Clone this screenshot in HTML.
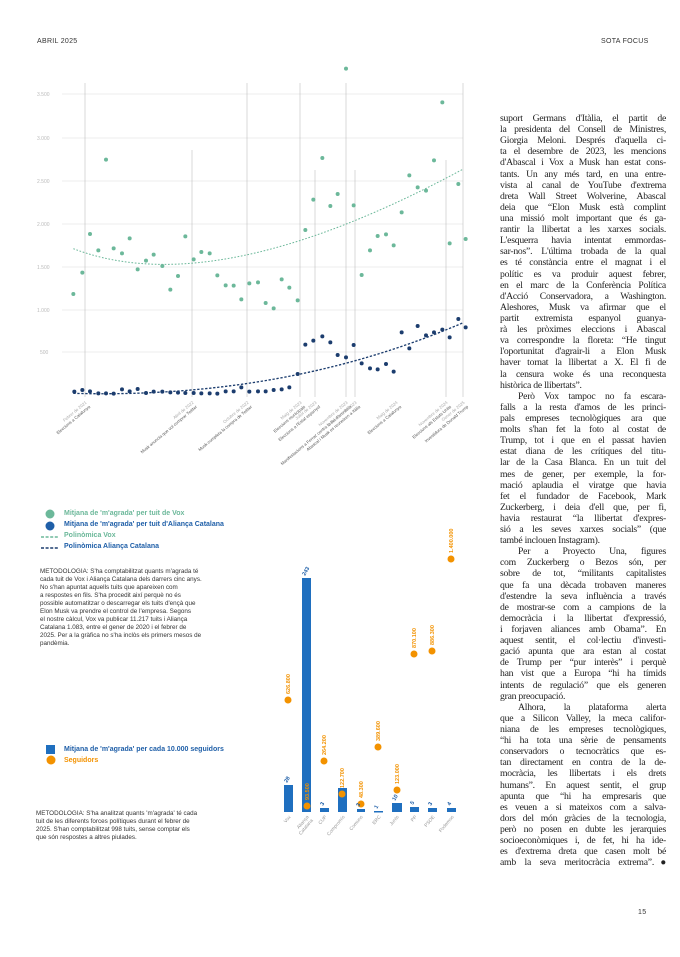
<!DOCTYPE html>
<html><head><meta charset="utf-8"><style>
body{margin:0;background:#fff;}
#p{position:relative;width:680px;height:957px;overflow:hidden;background:#fff;font-family:"Liberation Sans",sans-serif;}
.hd{position:absolute;top:38px;font-size:7px;color:#333;letter-spacing:.3px}
.col{position:absolute;left:500px;top:113px;width:166px;font-family:"Liberation Serif",serif;font-size:9.7px;line-height:11.12px;color:#222;}
.col div{white-space:nowrap;text-align:justify;text-align-last:justify;height:11.12px;letter-spacing:-0.25px}
.col div.l{text-align-last:left}
.col div.i{padding-left:18px}
.meth{position:absolute;font-size:6.3px;line-height:8px;color:#333;white-space:nowrap}
.lg{position:absolute;font-size:7px;font-weight:bold;white-space:nowrap}
</style></head><body><div id="p">
<div class="hd" style="left:37px">ABRIL 2025</div>
<div class="hd" style="left:601px">SOTA FOCUS</div>
<div class="hd" style="left:638px;top:909px">15</div>

<svg width="680" height="957" style="position:absolute;left:0;top:0">
<g stroke="#e6e6e6" stroke-width="0.7">
<line x1="62" y1="94" x2="463" y2="94"/><line x1="62" y1="138" x2="463" y2="138"/><line x1="62" y1="181" x2="463" y2="181"/><line x1="62" y1="224" x2="463" y2="224"/><line x1="62" y1="267" x2="463" y2="267"/><line x1="62" y1="310" x2="463" y2="310"/><line x1="62" y1="352" x2="463" y2="352"/>
</g>
<g font-size="5" fill="#bbb" font-family="Liberation Sans">
<text x="37" y="96">3.500</text><text x="37" y="140">3.000</text><text x="37" y="183">2.500</text><text x="37" y="226">2.000</text><text x="37" y="269">1.500</text><text x="37" y="312">1.000</text><text x="40" y="354">500</text>
</g>
<g stroke="#c8c8c8" stroke-width="0.7">
<line x1="85" y1="83" x2="85" y2="397"/><line x1="192" y1="150" x2="192" y2="397"/><line x1="247" y1="83" x2="247" y2="397"/><line x1="300" y1="83" x2="300" y2="397"/><line x1="315" y1="170" x2="315" y2="397"/><line x1="346" y1="83" x2="346" y2="397"/><line x1="355" y1="170" x2="355" y2="397"/><line x1="446" y1="160" x2="446" y2="397"/><line x1="463" y1="83" x2="463" y2="397"/>
</g>
<g transform="translate(30,60) scale(0.33333)">
<path d="M130,566 C350,650 700,650 1300,327" fill="none" stroke="#6cb89a" stroke-width="3" stroke-dasharray="5,5"/>
<path d="M130,1000 C500,1010 900,960 1300,788" fill="none" stroke="#1c3d6e" stroke-width="4" stroke-dasharray="7,5"/>
<g fill="#6cb89a">
<circle cx="130" cy="702" r="6"/><circle cx="157" cy="638" r="6"/><circle cx="180" cy="522" r="6"/><circle cx="205" cy="571" r="6"/><circle cx="228" cy="299" r="6"/><circle cx="251" cy="565" r="6"/><circle cx="276" cy="580" r="6"/><circle cx="299" cy="535" r="6"/><circle cx="323" cy="628" r="6"/><circle cx="348" cy="602" r="6"/><circle cx="371" cy="584" r="6"/><circle cx="397" cy="618" r="6"/><circle cx="421" cy="689" r="6"/><circle cx="444" cy="648" r="6"/><circle cx="466" cy="529" r="6"/><circle cx="491" cy="598" r="6"/><circle cx="514" cy="576" r="6"/><circle cx="539" cy="580" r="6"/><circle cx="562" cy="646" r="6"/><circle cx="587" cy="676" r="6"/><circle cx="611" cy="677" r="6"/><circle cx="634" cy="718" r="6"/><circle cx="658" cy="670" r="6"/><circle cx="684" cy="667" r="6"/><circle cx="707" cy="729" r="6"/><circle cx="731" cy="745" r="6"/><circle cx="755" cy="658" r="6"/><circle cx="778" cy="683" r="6"/><circle cx="803" cy="721" r="6"/><circle cx="826" cy="510" r="6"/><circle cx="850" cy="419" r="6"/><circle cx="877" cy="294" r="6"/><circle cx="901" cy="438" r="6"/><circle cx="923" cy="402" r="6"/><circle cx="948" cy="26" r="6"/><circle cx="971" cy="436" r="6"/><circle cx="995" cy="645" r="6"/><circle cx="1020" cy="571" r="6"/><circle cx="1043" cy="528" r="6"/><circle cx="1068" cy="523" r="6"/><circle cx="1091" cy="556" r="6"/><circle cx="1115" cy="457" r="6"/><circle cx="1138" cy="346" r="6"/><circle cx="1163" cy="382" r="6"/><circle cx="1188" cy="392" r="6"/><circle cx="1212" cy="301" r="6"/><circle cx="1237" cy="127" r="6"/><circle cx="1259" cy="550" r="6"/><circle cx="1285" cy="372" r="6"/><circle cx="1307" cy="537" r="6"/>
</g>
<g fill="#1c3d6e">
<circle cx="133" cy="995" r="6"/><circle cx="157" cy="990" r="6"/><circle cx="180" cy="994" r="6"/><circle cx="205" cy="1000" r="6"/><circle cx="228" cy="1000" r="6"/><circle cx="251" cy="1001" r="6"/><circle cx="276" cy="988" r="6"/><circle cx="299" cy="994" r="6"/><circle cx="323" cy="987" r="6"/><circle cx="348" cy="999" r="6"/><circle cx="371" cy="995" r="6"/><circle cx="397" cy="995" r="6"/><circle cx="421" cy="997" r="6"/><circle cx="444" cy="998" r="6"/><circle cx="466" cy="999" r="6"/><circle cx="491" cy="999" r="6"/><circle cx="514" cy="1000" r="6"/><circle cx="539" cy="1000" r="6"/><circle cx="562" cy="1001" r="6"/><circle cx="587" cy="994" r="6"/><circle cx="611" cy="994" r="6"/><circle cx="634" cy="982" r="6"/><circle cx="658" cy="995" r="6"/><circle cx="684" cy="994" r="6"/><circle cx="707" cy="994" r="6"/><circle cx="731" cy="990" r="6"/><circle cx="755" cy="988" r="6"/><circle cx="778" cy="982" r="6"/><circle cx="803" cy="942" r="6"/><circle cx="826" cy="854" r="6"/><circle cx="850" cy="842" r="6"/><circle cx="877" cy="829" r="6"/><circle cx="901" cy="847" r="6"/><circle cx="923" cy="885" r="6"/><circle cx="948" cy="892" r="6"/><circle cx="971" cy="855" r="6"/><circle cx="995" cy="910" r="6"/><circle cx="1020" cy="925" r="6"/><circle cx="1043" cy="928" r="6"/><circle cx="1068" cy="912" r="6"/><circle cx="1091" cy="935" r="6"/><circle cx="1115" cy="817" r="6"/><circle cx="1138" cy="865" r="6"/><circle cx="1163" cy="798" r="6"/><circle cx="1188" cy="826" r="6"/><circle cx="1212" cy="817" r="6"/><circle cx="1237" cy="809" r="6"/><circle cx="1259" cy="832" r="6"/><circle cx="1285" cy="777" r="6"/><circle cx="1307" cy="802" r="6"/>
</g>
</g>
<g font-size="4.3" font-family="Liberation Sans" text-anchor="end">
<g transform="translate(87,403) rotate(-40)"><text fill="#aaa">Febrer de 2021</text><text y="5.5" fill="#555">Eleccions a Catalunya</text></g>
<g transform="translate(194,403) rotate(-40)"><text fill="#aaa">Abril de 2022</text><text y="5.5" fill="#555">Musk anuncia que vol comprar Twitter</text></g>
<g transform="translate(249,403) rotate(-40)"><text fill="#aaa">Octubre de 2022</text><text y="5.5" fill="#555">Musk completa la compra de Twitter</text></g>
<g transform="translate(302,403) rotate(-40)"><text fill="#aaa">Maig de 2023</text><text y="5.5" fill="#555">Eleccions municipals</text></g>
<g transform="translate(317,403) rotate(-40)"><text fill="#aaa">Juliol de 2023</text><text y="5.5" fill="#555">Eleccions a l'Estat espanyol</text></g>
<g transform="translate(348,403) rotate(-40)"><text fill="#aaa">Novembre de 2023</text><text y="5.5" fill="#555">Manifestacions a Ferraz contra la llei d'amnistia</text></g>
<g transform="translate(357,403) rotate(-40)"><text fill="#aaa">Desembre de 2023</text><text y="5.5" fill="#555">Abascal i Musk es reuneixen a Itàlia</text></g>
<g transform="translate(398,403) rotate(-40)"><text fill="#aaa">Maig de 2024</text><text y="5.5" fill="#555">Eleccions a Catalunya</text></g>
<g transform="translate(448,403) rotate(-40)"><text fill="#aaa">Novembre de 2024</text><text y="5.5" fill="#555">Eleccions als Estats Units</text></g>
<g transform="translate(465,403) rotate(-40)"><text fill="#aaa">Gener de 2025</text><text y="5.5" fill="#555">Investidura de Donald Trump</text></g>
</g>

<circle cx="50" cy="514" r="4.5" fill="#6cb89a"/>
<circle cx="50" cy="526" r="4.5" fill="#1f5fa8"/>
<line x1="41" y1="537" x2="59" y2="537" stroke="#6cb89a" stroke-width="1.6" stroke-dasharray="3,1.6"/>
<line x1="41" y1="548" x2="59" y2="548" stroke="#1c3d6e" stroke-width="1.6" stroke-dasharray="3,1.6"/>

<g fill="#1f6fbf">
<rect x="284" y="785" width="9" height="27"/><rect x="302" y="578" width="9" height="234"/><rect x="320" y="808" width="9" height="4"/><rect x="338" y="788" width="9" height="24"/><rect x="357" y="809" width="8" height="3"/><rect x="374" y="811" width="9" height="1.5"/><rect x="392" y="803" width="10" height="9"/><rect x="410" y="807" width="9" height="5"/><rect x="428" y="808" width="9" height="4"/><rect x="447" y="808" width="9" height="4"/>
</g>
<g fill="#f39200">
<circle cx="288" cy="700" r="3.5"/><circle cx="307" cy="806" r="3.5"/><circle cx="324" cy="761" r="3.5"/><circle cx="342" cy="794" r="3.5"/><circle cx="361" cy="804" r="3.5"/><circle cx="378" cy="747" r="3.5"/><circle cx="397" cy="790" r="3.5"/><circle cx="414" cy="654" r="3.5"/><circle cx="432" cy="651" r="3.5"/><circle cx="451" cy="559" r="3.5"/>
</g>
<g font-size="5.5" font-weight="bold" fill="#f39200" font-family="Liberation Sans">
<text transform="translate(290,694) rotate(-90)">626.800</text>
<text transform="translate(309,800) rotate(-90)">93.500</text>
<text transform="translate(326,755) rotate(-90)">264.200</text>
<text transform="translate(344,788) rotate(-90)">122.700</text>
<text transform="translate(363,798) rotate(-90)">48.300</text>
<text transform="translate(380,741) rotate(-90)">389.600</text>
<text transform="translate(399,784) rotate(-90)">123.000</text>
<text transform="translate(416,648) rotate(-90)">870.100</text>
<text transform="translate(434,645) rotate(-90)">886.300</text>
<text transform="translate(453,553) rotate(-90)">1.400.000</text>
</g>
<g font-size="5.5" font-weight="bold" fill="#1f5fa8" font-family="Liberation Sans">
<text transform="translate(287,783) rotate(-60)">28</text>
<text transform="translate(305,576) rotate(-60)">243</text>
<text transform="translate(323,806) rotate(-60)">3</text>
<text transform="translate(359,807) rotate(-60)">3</text>
<text transform="translate(377,809) rotate(-60)">1</text>
<text transform="translate(395,801) rotate(-60)">10</text>
<text transform="translate(413,805) rotate(-60)">5</text>
<text transform="translate(431,806) rotate(-60)">3</text>
<text transform="translate(450,806) rotate(-60)">4</text>
</g>
<g font-size="4.8" fill="#999" font-family="Liberation Sans" text-anchor="end">
<text transform="translate(291,817) rotate(-50)">Vox</text>
<text transform="translate(309,817) rotate(-50)">Aliança<tspan x="0" dy="5.5">Catalana</tspan></text>
<text transform="translate(327,817) rotate(-50)">CUP</text>
<text transform="translate(345,817) rotate(-50)">Compromís</text>
<text transform="translate(363,817) rotate(-50)">Comuns</text>
<text transform="translate(381,817) rotate(-50)">ERC</text>
<text transform="translate(399,817) rotate(-50)">Junts</text>
<text transform="translate(417,817) rotate(-50)">PP</text>
<text transform="translate(435,817) rotate(-50)">PSOE</text>
<text transform="translate(454,817) rotate(-50)">Podemos</text>
</g>
<rect x="46" y="745" width="9" height="9" fill="#1f6fbf"/>
<circle cx="51" cy="760" r="4.5" fill="#f39200"/>
</svg>

<div class="lg" style="left:64px;top:510px;color:#6cb89a">Mitjana de 'm'agrada' per tuit de Vox</div>
<div class="lg" style="left:64px;top:521px;color:#1f5fa8">Mitjana de 'm'agrada' per tuit d'Aliança Catalana</div>
<div class="lg" style="left:64px;top:532px;color:#6cb89a">Polinòmica Vox</div>
<div class="lg" style="left:64px;top:543px;color:#1f5fa8">Polinòmica Aliança Catalana</div>
<div class="lg" style="left:64px;top:746px;color:#1f5fa8">Mitjana de 'm'agrada' per cada 10.000 seguidors</div>
<div class="lg" style="left:64px;top:757px;color:#f39200">Seguidors</div>

<div class="meth" style="left:40px;top:568px">METODOLOGIA: S'ha comptabilitzat quants m'agrada té<br>cada tuit de Vox i Aliança Catalana dels darrers cinc anys.<br>No s'han apuntat aquells tuits que apareixen com<br>a respostes en fils. S'ha procedit així perquè no és<br>possible automatitzar o descarregar els tuits d'ençà que<br>Elon Musk va prendre el control de l'empresa. Segons<br>el nostre càlcul, Vox va publicar 11.217 tuits i Aliança<br>Catalana 1.083, entre el gener de 2020 i el febrer de<br>2025. Per a la gràfica no s'ha inclòs els primers mesos de<br>pandèmia.</div>
<div class="meth" style="left:36px;top:810px">METODOLOGIA: S'ha analitzat quants 'm'agrada' té cada<br>tuit de les diferents forces polítiques durant el febrer de<br>2025. S'han comptabilitzat 998 tuits, sense comptar els<br>que són respostes a altres piulades.</div>

<div class="col">
<div>suport Germans d'Itàlia, el partit de</div>
<div>la presidenta del Consell de Ministres,</div>
<div>Giorgia Meloni. Després d'aquella ci-</div>
<div>ta el desembre de 2023, les mencions</div>
<div>d'Abascal i Vox a Musk han estat cons-</div>
<div>tants. Un any més tard, en una entre-</div>
<div>vista al canal de YouTube d'extrema</div>
<div>dreta Wall Street Wolverine, Abascal</div>
<div>deia que “Elon Musk està complint</div>
<div>una missió molt important que és ga-</div>
<div>rantir la llibertat a les xarxes socials.</div>
<div>L'esquerra havia intentat emmordas-</div>
<div>sar-nos”. L'última trobada de la qual</div>
<div>es té constància entre el magnat i el</div>
<div>polític es va produir aquest febrer,</div>
<div>en el marc de la Conferència Política</div>
<div>d'Acció Conservadora, a Washington.</div>
<div>Aleshores, Musk va afirmar que el</div>
<div>partit extremista espanyol guanya-</div>
<div>rà les pròximes eleccions i Abascal</div>
<div>va correspondre la floreta: “He tingut</div>
<div>l'oportunitat d'agrair-li a Elon Musk</div>
<div>haver tornat la llibertat a X. El fi de</div>
<div>la censura woke és una reconquesta</div>
<div class="l">històrica de llibertats”.</div>
<div class="i">Però Vox tampoc no fa escara-</div>
<div>falls a la resta d'amos de les princi-</div>
<div>pals empreses tecnològiques ara que</div>
<div>molts s'han fet la foto al costat de</div>
<div>Trump, tot i que en el passat havien</div>
<div>estat diana de les crítiques del titu-</div>
<div>lar de la Casa Blanca. En un tuit del</div>
<div>mes de gener, per exemple, la for-</div>
<div>mació aplaudia el viratge que havia</div>
<div>fet el fundador de Facebook, Mark</div>
<div>Zuckerberg, i deia d'ell que, per fi,</div>
<div>havia restaurat “la llibertat d'expres-</div>
<div>sió a les seves xarxes socials” (que</div>
<div class="l">també inclouen Instagram).</div>
<div class="i">Per a Proyecto Una, figures</div>
<div>com Zuckerberg o Bezos són, per</div>
<div>sobre de tot, “militants capitalistes</div>
<div>que fa una dècada trobaven maneres</div>
<div>d'estendre la seva influència a través</div>
<div>de mostrar-se com a campions de la</div>
<div>democràcia i la llibertat d'expressió,</div>
<div>i forjaven aliances amb Obama”. En</div>
<div>aquest sentit, el col·lectiu d'investi-</div>
<div>gació apunta que ara estan al costat</div>
<div>de Trump per “pur interès” i perquè</div>
<div>han vist que a Europa “hi ha tímids</div>
<div>intents de regulació” que els generen</div>
<div class="l">gran preocupació.</div>
<div class="i">Alhora, la plataforma alerta</div>
<div>que a Silicon Valley, la meca califor-</div>
<div>niana de les empreses tecnològiques,</div>
<div>“hi ha tota una sèrie de pensaments</div>
<div>conservadors o tecnocràtics que es-</div>
<div>tan directament en contra de la de-</div>
<div>mocràcia, les llibertats i els drets</div>
<div>humans”. En aquest sentit, el grup</div>
<div>apunta que “hi ha empresaris que</div>
<div>es veuen a si mateixos com a salva-</div>
<div>dors del món gràcies de la tecnologia,</div>
<div>però no posen en dubte les jerarquies</div>
<div>socioeconòmiques i, de fet, hi ha ide-</div>
<div>es d'extrema dreta que casen molt bé</div>
<div>amb la seva meritocràcia extrema”.●</div>
</div>
</div></body></html>
